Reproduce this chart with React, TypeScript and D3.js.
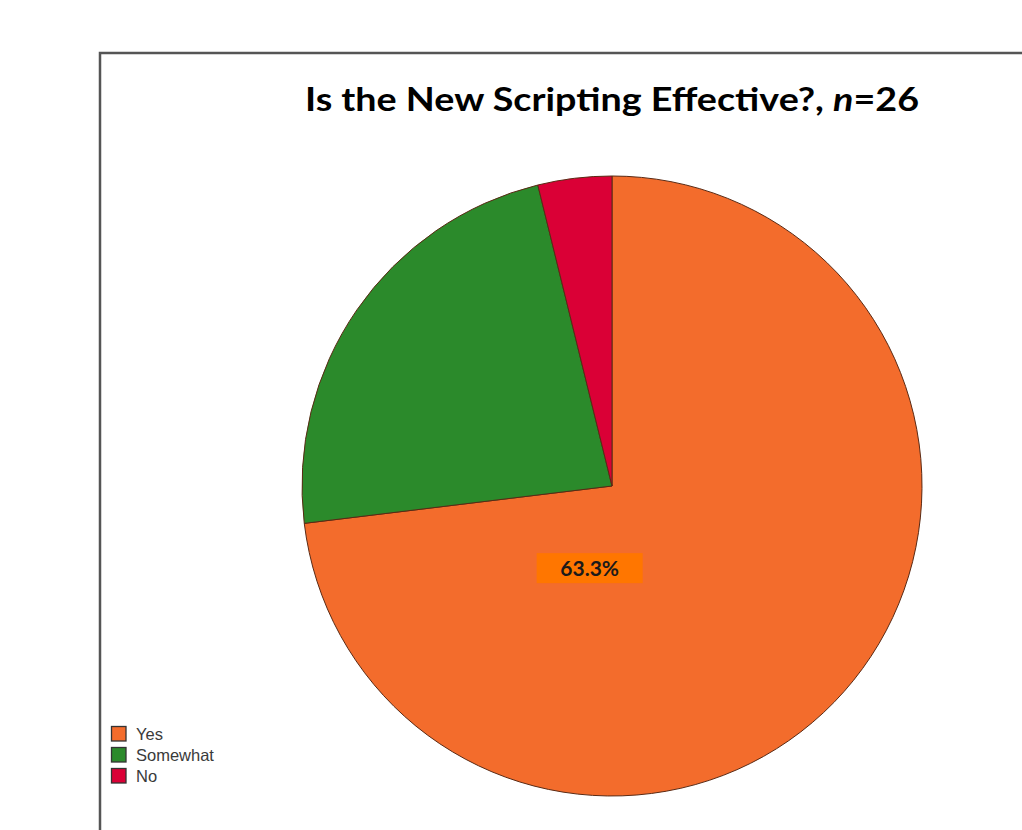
import React from "react";
import * as d3 from "d3";

const categories = ["Yes", "Somewhat", "No"];
const counts = [19, 6, 1];
const colors = ["#f36c2c", "#2b8a2b", "#da0036"];
const shownLabel = "63.3%";
const titleMain = "Is the New Scripting Effective?, ";
const titleN = "n";
const titleTail = "=26";

const W = 1022;
const H = 830;
const cx = 612;
const cy = 486;
const R = 310;

export default function App() {
  const pie = d3.pie<number>().sort(null).value((d) => d)(counts);
  const arc = d3.arc<d3.PieArcDatum<number>>().innerRadius(0).outerRadius(R);
  const lx = cx - 0.072 * R;
  const ly = cy + 0.265 * R;
  return (
    <svg
      width={W}
      height={H}
      style={{ position: "absolute", left: 0, top: 0, display: "block", background: "#fff" }}
    >
      <rect x={0} y={0} width={W} height={H} fill="#fff" />
      <path d={`M100,${H + 5} L100,53 L${W + 5},53`} fill="none" stroke="#555" strokeWidth={2.5} />
      <text
        x={612}
        y={111}
        textAnchor="middle"
        fontFamily="Lato, 'Open Sans', sans-serif"
        fontWeight="bold"
        fontSize={32}
        fill="#000"
        textLength={614}
        lengthAdjust="spacingAndGlyphs"
      >
        {titleMain}
        <tspan fontStyle="italic">{titleN}</tspan>
        {titleTail}
      </text>
      <g transform={`translate(${cx},${cy})`}>
        {pie.map((p, i) => (
          <path key={i} d={arc(p) || ""} fill={colors[i]} stroke="#5a2a14" strokeWidth={1} />
        ))}
      </g>
      <rect x={lx - 53} y={ly - 15} width={106} height={30} fill="#ff7600" />
      <text
        x={lx}
        y={ly + 7.5}
        textAnchor="middle"
        fontFamily="Lato, 'Open Sans', sans-serif"
        fontWeight="bold"
        fontSize={21}
        fill="#1a1a1a"
      >
        {shownLabel}
      </text>
      <g>
        {categories.map((c, i) => (
          <g key={c} transform={`translate(111,${726 + i * 21})`}>
            <rect x={0.5} y={0.5} width={14.5} height={14.5} fill={colors[i]} stroke="#333" strokeWidth={1.3} />
            <text x={25} y={14} fontFamily="Arial, 'Liberation Sans', sans-serif" fontSize={16.5} fill="#3a3a3a">
              {c}
            </text>
          </g>
        ))}
      </g>
    </svg>
  );
}
